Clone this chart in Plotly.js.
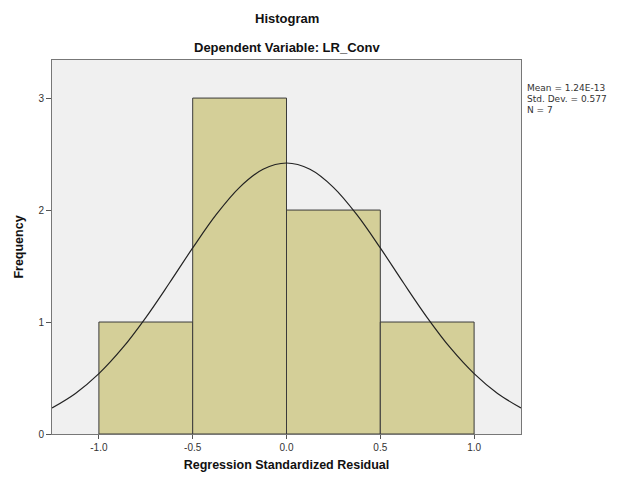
<!DOCTYPE html>
<html><head><meta charset="utf-8">
<script src="https://cdn.plot.ly/plotly-3.0.1.min.js"></script>
<style>body{margin:0;background:#fff}#c{width:622px;height:483px}</style>
</head><body><div id="c"></div>
<script>
var binCenters = [-0.75, -0.25, 0.25, 0.75];
var frequencies = [1, 3, 2, 1];
var binWidth = 0.5;
var curveX = [-1.25,-1.125,-1.0,-0.875,-0.75,-0.625,-0.5,-0.375,-0.25,-0.125,0,0.125,0.25,0.375,0.5,0.625,0.75,0.875,1.0,1.125,1.25];
var curveY = [0.232,0.362,0.539,0.766,1.040,1.346,1.662,1.959,2.203,2.364,2.420,2.364,2.203,1.959,1.662,1.346,1.040,0.766,0.539,0.362,0.232];
var xTickVals = [-1.0,-0.5,0.0,0.5,1.0];
var xTickText = ["-1.0","-0.5","0.0","0.5","1.0"];
var yTickVals = [0,1,2,3];
var statsLines = ["Mean = 1.24E-13", "Std. Dev. = 0.577", "N = 7"];

var font = "Liberation Sans, Arial, sans-serif";
var data = [
  {type:'bar', x:binCenters, y:frequencies, width:binWidth,
   marker:{color:'#d4cf98', line:{color:'#3a3a3a', width:1}}, hoverinfo:'skip'},
  {type:'scatter', mode:'lines', x:curveX, y:curveY, line:{color:'#222', width:1.2, shape:'spline'}, hoverinfo:'skip'}
];
var annotations = [
  {text:'<b>Histogram</b>', xref:'paper', yref:'paper', x:0.5, y:1, yshift:51, showarrow:false, font:{size:13, color:'#111'}},
  {text:'<b>Dependent Variable: LR_Conv</b>', xref:'paper', yref:'paper', x:0.5, y:1, yshift:22, showarrow:false, font:{size:13, color:'#111'}}
];
statsLines.forEach(function(s, i){
  annotations.push({text:s, xref:'paper', yref:'paper', x:1, y:1, xanchor:'left', yanchor:'middle',
    xshift:5, yshift:-28 - 10.8*i, align:'left', showarrow:false, borderpad:0,
    font:{size:9, color:'#333', family:'DejaVu Sans, sans-serif'}});
});
var layout = {
  width:622, height:483, showlegend:false,
  paper_bgcolor:'#fff', plot_bgcolor:'#f0f0f0',
  margin:{l:52, r:101, t:60, b:49},
  bargap:0,
  font:{family:font, color:'#222'},
  xaxis:{range:[-1.25,1.25], tickvals:xTickVals, ticktext:xTickText, showgrid:false, zeroline:false,
    showline:true, linecolor:'#777', linewidth:1, mirror:true, ticks:'outside', ticklen:4, tickcolor:'#555',
    tickfont:{size:10, color:'#333'},
    title:{text:'<b>Regression Standardized Residual</b>', font:{size:12.5, color:'#111'}, standoff:8}},
  yaxis:{range:[0,3.34], tickvals:yTickVals, showgrid:false, zeroline:false,
    showline:true, linecolor:'#777', linewidth:1, mirror:true, ticks:'outside', ticklen:5, tickcolor:'#555',
    tickfont:{size:10, color:'#333'},
    title:{text:'<b>Frequency</b>', font:{size:12.5, color:'#111'}, standoff:12}},
  annotations:annotations
};
Plotly.newPlot('c', data, layout, {staticPlot:true});
</script></body></html>
